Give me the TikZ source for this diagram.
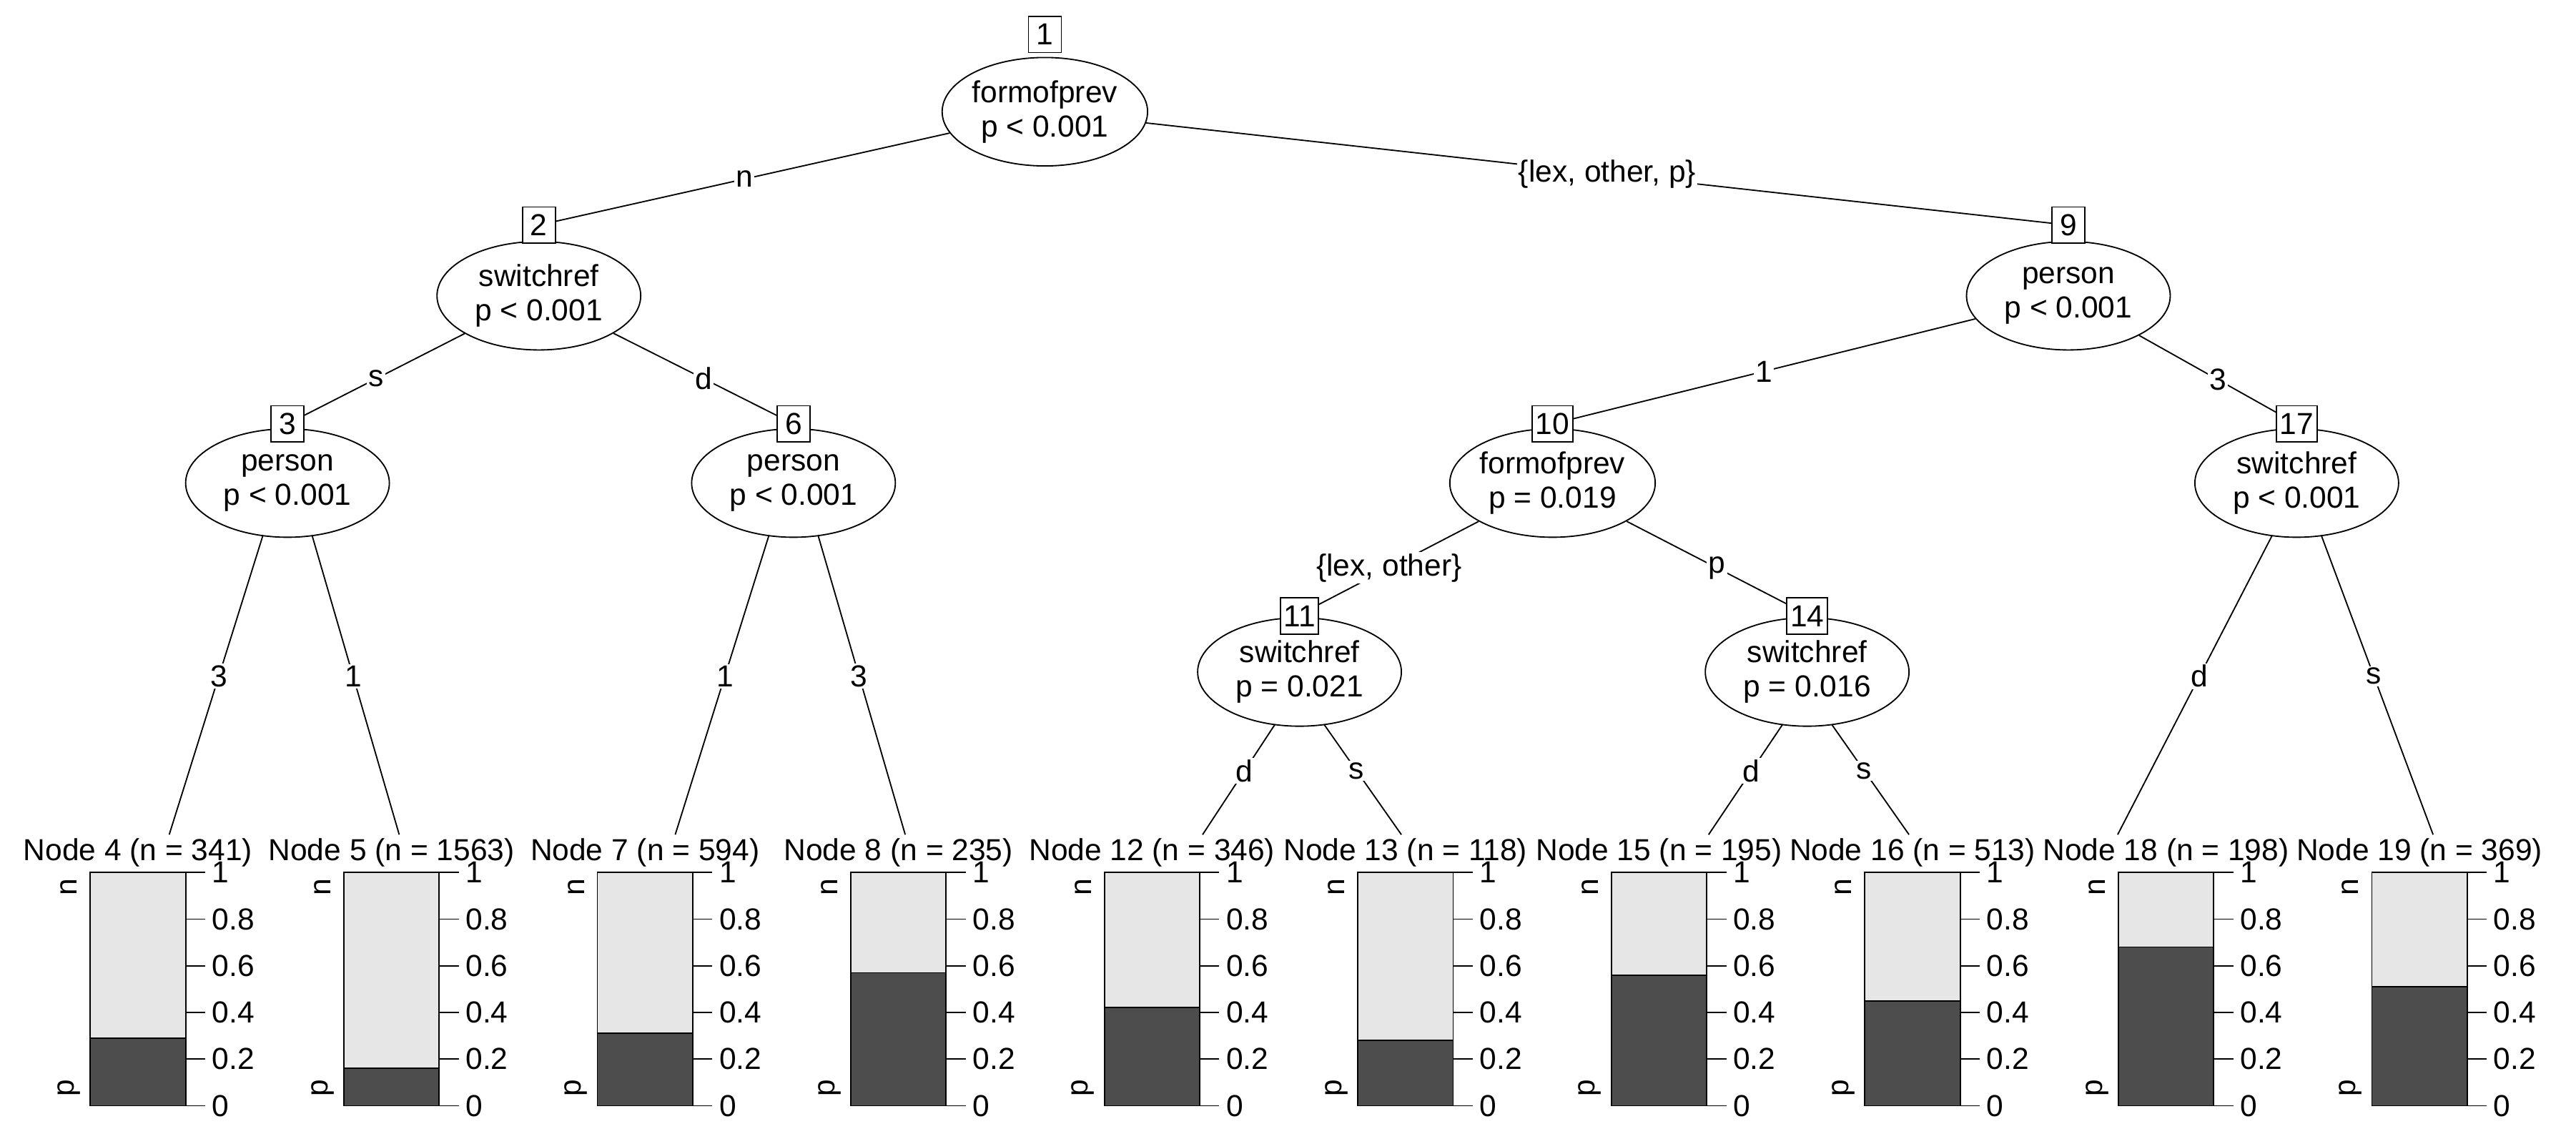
\documentclass[tikz,border=0pt]{standalone}
\usepackage{fontspec}
\setmainfont{Liberation Sans}
\usetikzlibrary{shapes.geometric}
\begin{document}
\begin{tikzpicture}[x=1pt,y=-1pt,
  every node/.style={font=\fontsize{18.5}{21}\selectfont},
  inner/.style={ellipse,draw,line width=0.8pt,fill=white,minimum width=124,minimum height=66,inner sep=0,align=center},
  idbox/.style={draw,line width=0.8pt,fill=white,inner sep=2pt,minimum width=20,minimum height=22},
  edge/.style={line width=0.8pt},
  elab/.style={fill=white,inner sep=1pt}]
\useasboundingbox (0,0) rectangle (1568,690);
\definecolor{lg}{HTML}{E6E6E6}
\definecolor{dg}{HTML}{4D4D4D}
% inner nodes
\node[inner] (n1) at (636,68) {formofprev\\p < 0.001};
\node[inner] (n2) at (328,180) {switchref\\p < 0.001};
\node[inner] (n3) at (175,294) {person\\p < 0.001};
\node[inner] (n6) at (483,294) {person\\p < 0.001};
\node[inner] (n9) at (1259,180) {person\\p < 0.001};
\node[inner] (n10) at (945,294) {formofprev\\p = 0.019};
\node[inner] (n17) at (1398,294) {switchref\\p < 0.001};
\node[inner] (n11) at (791,409) {switchref\\p = 0.021};
\node[inner] (n14) at (1100,409) {switchref\\p = 0.016};
% leaves
\newcommand{\myleaf}[6]{%
  \pgfmathsetmacro{\bx}{55+154.3*#1}
  \pgfmathsetmacro{\ty}{673-142*#5}
  \fill[lg] (\bx,531) rectangle (\bx+58,673);
  \fill[dg] (\bx,\ty) rectangle (\bx+58,673);
  \draw[line width=0.8pt] (\bx,531) rectangle (\bx+58,673);
  \draw[line width=0.8pt] (\bx,\ty) -- (\bx+58,\ty);
  \foreach \t/\l in {0/0,0.2/0.2,0.4/0.4,0.6/0.6,0.8/0.8,1/1}{
    \draw[line width=0.8pt] (\bx+58,673-142*\t) -- (\bx+70,673-142*\t);
    \node[anchor=west,inner sep=0] at (\bx+74,673-142*\t) {\l};}
  \node[rotate=90,inner sep=0] at (\bx-13,540) {n};
  \node[rotate=90,inner sep=0] at (\bx-13,662) {p};
  \node[inner sep=0] (#2) at (\bx+29,519) {Node #3 (n = #4)};
  \coordinate (#2t) at (#6,508);
}
\myleaf{0}{L4}{4}{341}{0.29}{103}
\myleaf{1}{L5}{5}{1563}{0.16}{243}
\myleaf{2}{L7}{7}{594}{0.31}{411}
\myleaf{3}{L8}{8}{235}{0.57}{551}
\myleaf{4}{L12}{12}{346}{0.42}{732}
\myleaf{5}{L13}{13}{118}{0.28}{853}
\myleaf{6}{L15}{15}{195}{0.56}{1040}
\myleaf{7}{L16}{16}{513}{0.45}{1162}
\myleaf{8}{L18}{18}{198}{0.68}{1289}
\myleaf{9}{L19}{19}{369}{0.51}{1481}
% edges
\draw[edge] (n1) -- (328,137) node[elab,pos=0.5] {n};
\draw[edge] (n1) -- (1259,137) node[elab,pos=0.5] {\{lex, other, p\}};
\draw[edge] (n2) -- (175,258) node[elab,pos=0.5] {s};
\draw[edge] (n2) -- (483,258) node[elab,pos=0.5] {d};
\draw[edge] (n9) -- (945,258) node[elab,pos=0.5] {1};
\draw[edge] (n9) -- (1398,258) node[elab,pos=0.5] {3};
\draw[edge] (n10) -- (791,374) node[elab,pos=0.5] {\{lex, other\}};
\draw[edge] (n10) -- (1100,374) node[elab,pos=0.5] {p};
\draw[edge] (160,326) -- (L4t) node[elab,pos=0.47] {3};
\draw[edge] (190,326) -- (L5t) node[elab,pos=0.47] {1};
\draw[edge] (468,326) -- (L7t) node[elab,pos=0.47] {1};
\draw[edge] (498,326) -- (L8t) node[elab,pos=0.47] {3};
\draw[edge] (1383,326) -- (L18t) node[elab,pos=0.47] {d};
\draw[edge] (1413,326) -- (L19t) node[elab,pos=0.47] {s};
\draw[edge] (776,441) -- (L12t) node[elab,pos=0.42] {d};
\draw[edge] (806,441) -- (L13t) node[elab,pos=0.42] {s};
\draw[edge] (1085,441) -- (L15t) node[elab,pos=0.42] {d};
\draw[edge] (1115,441) -- (L16t) node[elab,pos=0.42] {s};
% boxes
\node[idbox] (b1) at (636,21) {1};
\node[idbox] (b2) at (328,137) {2};
\node[idbox] (b3) at (175,258) {3};
\node[idbox] (b6) at (483,258) {6};
\node[idbox] (b9) at (1259,137) {9};
\node[idbox] (b10) at (945,258) {10};
\node[idbox] (b17) at (1398,258) {17};
\node[idbox] (b11) at (791,375) {11};
\node[idbox] (b14) at (1100,375) {14};
\end{tikzpicture}
\end{document}
